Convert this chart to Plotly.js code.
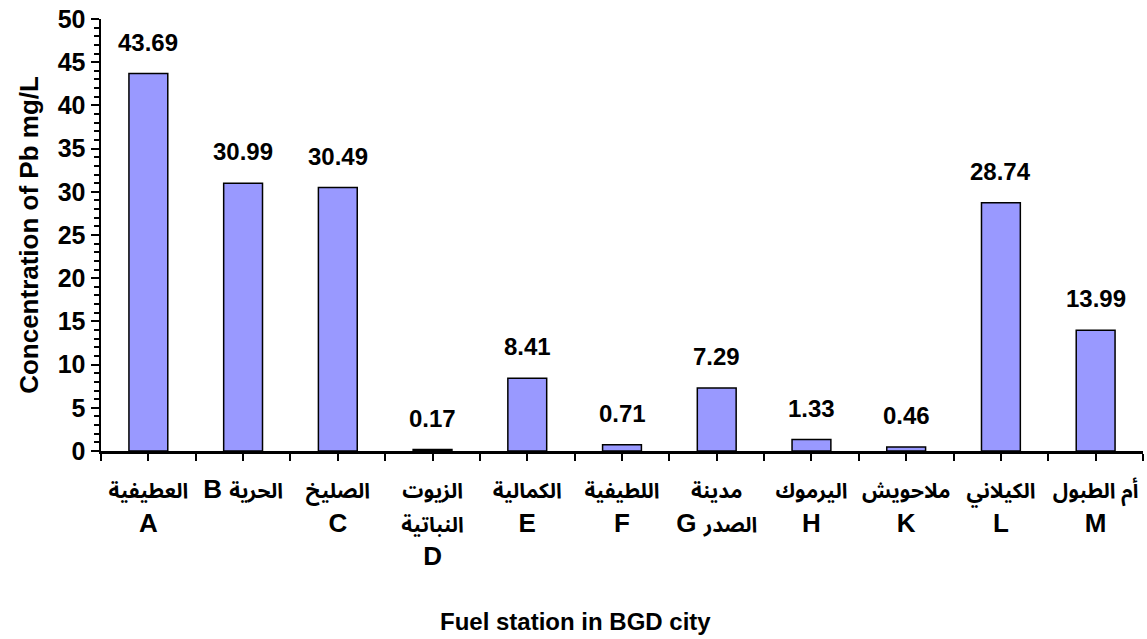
<!DOCTYPE html>
<html>
<head>
<meta charset="utf-8">
<script src="https://cdn.plot.ly/plotly-3.0.1.min.js"></script>
<style>
  html, body { margin: 0; padding: 0; background: #fff; }
  #chart { width: 1147px; height: 639px; }
</style>
</head>
<body>
<div id="chart"></div>
<script>
// Data
const stationCodes = ['A', 'B', 'C', 'D', 'E', 'F', 'G', 'H', 'K', 'L', 'M'];
// Each label is a list of lines; Arabic parts are drawn a bit smaller
const tickLabels = [
  ['العطيفية', 'A'],
  ['B الحرية'],
  ['الصليخ', 'C'],
  ['الزيوت', 'النباتية', 'D'],
  ['الكمالية', 'E'],
  ['اللطيفية', 'F'],
  ['مدينة', 'G الصدر'],
  ['اليرموك', 'H'],
  ['ملاحويش', 'K'],
  ['الكيلاني', 'L'],
  ['أم الطبول', 'M']
];
const pbValues = [43.69, 30.99, 30.49, 0.17, 8.41, 0.71, 7.29, 1.33, 0.46, 28.74, 13.99];
const yTitle = 'Concentration of Pb mg/L';
const xTitle = 'Fuel station in BGD city';

const FONT = 'Liberation Sans, Arial, Noto Sans Arabic, Noto Naskh Arabic, DejaVu Sans, sans-serif';
const positions = stationCodes.map((_, i) => i);

// wrap Arabic runs in a smaller span
function fmtLine(line) {
  const out = line.replace(/([\u0600-\u06FF][\u0600-\u06FF ]*[\u0600-\u06FF]|[\u0600-\u06FF])/g,
    '<span style="font-size:21px">$1</span>');
  return '<b>' + out + '</b>';
}
const tickText = tickLabels.map(lines => lines.map(fmtLine).join('<br>'));

const trace = {
  type: 'bar',
  x: positions,
  y: pbValues,
  width: 0.41,
  marker: { color: '#9999FF', line: { color: '#000000', width: 1.5 } },
  hoverinfo: 'x+y'
};

const valueLabels = pbValues.map((v, i) => ({
  x: positions[i], y: v, xref: 'x', yref: 'y',
  text: '<b>' + v.toFixed(2) + '</b>',
  showarrow: false, yanchor: 'bottom', yshift: 16,
  font: { family: FONT, size: 24, color: '#000' }
}));

const layout = {
  width: 1147, height: 639,
  margin: { l: 101, r: 4, t: 19, b: 188 },
  paper_bgcolor: '#fff', plot_bgcolor: '#fff',
  showlegend: false,
  font: { family: FONT, size: 24, color: '#000' },
  xaxis: {
    range: [-0.5, 10.5],
    tickmode: 'array', tickvals: positions,
    ticktext: tickText,
    tickangle: 0,
    ticks: 'outside', ticklen: 7, tickwidth: 2, tickcolor: '#000',
    minor: { tick0: 0.5, dtick: 1, ticks: 'outside', ticklen: 7, tickwidth: 2, tickcolor: '#000', showgrid: false },
    showline: true, linecolor: '#000', linewidth: 2.5,
    showgrid: false, zeroline: false,
    tickfont: { family: FONT, size: 26, color: '#000' },
    ticklabelstandoff: 6,
    ticklabeloverflow: 'allow',
    fixedrange: true
  },
  yaxis: {
    range: [0, 50], dtick: 5, tick0: 0,
    ticks: 'outside', ticklen: 8, tickwidth: 2, tickcolor: '#000',
    minor: { dtick: 1, ticks: 'outside', ticklen: 5, tickwidth: 2, tickcolor: '#000', showgrid: false },
    showline: true, linecolor: '#000', linewidth: 2.5,
    showgrid: false, zeroline: false,
    tickfont: { family: FONT, size: 25, color: '#000' },
    tickprefix: '<b>', ticksuffix: '</b>',
    title: { text: '<b>' + yTitle + '</b>', font: { family: FONT, size: 26, color: '#000' }, standoff: 12 },
    fixedrange: true
  },
  annotations: valueLabels.concat([{
    xref: 'paper', yref: 'paper', x: 0.455, y: 0,
    yanchor: 'top', yshift: -155,
    text: '<b>' + xTitle + '</b>', showarrow: false,
    font: { family: FONT, size: 24, color: '#000' }
  }])
};

Plotly.newPlot('chart', [trace], layout, { displayModeBar: false, staticPlot: true });
</script>
</body>
</html>
